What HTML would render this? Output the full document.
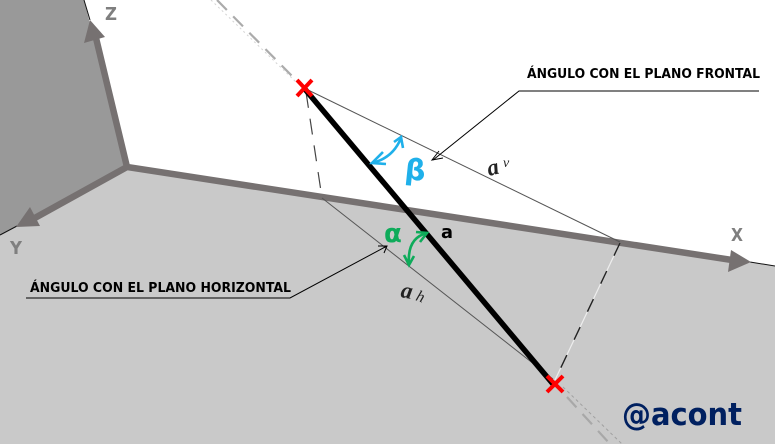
<!DOCTYPE html>
<html><head><meta charset="utf-8"><style>
html,body{margin:0;padding:0;background:#fff;width:775px;height:444px;overflow:hidden}
svg{display:block}
text{font-family:"DejaVu Sans","Liberation Sans",sans-serif}
</style></head><body>
<svg width="775" height="444" viewBox="0 0 775 444" xmlns="http://www.w3.org/2000/svg">
<rect width="775" height="444" fill="#fff"/>
<polygon points="0,0 84,0 127,167 0,235" fill="#999999"/>
<polygon points="127,167 775,266 775,444 0,444 0,235" fill="#c9c9c9"/>
<path d="M84,0 L90,20 M17,226 L0,235 M750,262 L775,266" stroke="#111" stroke-width="1" fill="none"/>
<!-- extension lines -->
<path d="M217,0 L292,76" stroke="#ababab" stroke-width="2.2" stroke-dasharray="14 9" fill="none"/>
<path d="M211,0 L296,82" stroke="#d4d4d4" stroke-width="1" stroke-dasharray="2 3" fill="none"/>
<path d="M567,397 L610,444" stroke="#a8a8a8" stroke-width="2.2" stroke-dasharray="14 9" fill="none"/>
<path d="M563,387 L622,444" stroke="#a0a0a0" stroke-width="1" stroke-dasharray="3 3" fill="none"/>
<!-- axes -->
<path d="M127,167 L96,38 M127,167 L33,219 M127,167 L732,260" stroke="#767171" stroke-width="6.5" fill="none"/>
<polygon points="90,20 105,37 84,43" fill="#767171"/>
<polygon points="16,227 30,207 40,226" fill="#767171"/>
<polygon points="751,262 731,250 728,272" fill="#767171"/>
<!-- construction lines -->
<path d="M304,88 L620,242" stroke="#555" stroke-width="1" fill="none"/>
<path d="M322,198 L553,379" stroke="#555" stroke-width="1" fill="none"/>
<path d="M306,92 L322,198" stroke="#444" stroke-width="1.2" stroke-dasharray="16 11" fill="none"/>
<path d="M620,243 L555,380" stroke="#eee" stroke-width="1.2" fill="none"/>
<path d="M620,243 L555,380" stroke="#222" stroke-width="1.4" stroke-dasharray="14 17" fill="none"/>
<!-- main segment -->
<path d="M304,88 L553,384" stroke="#000" stroke-width="5.5" fill="none"/>
<!-- red marks -->
<path d="M297,80 L312,96 M312,80 L297,96" stroke="#f00" stroke-width="4" fill="none"/>
<path d="M547,376 L563,392 M563,376 L547,392" stroke="#f00" stroke-width="4" fill="none"/>
<!-- leaders -->
<path d="M759,91 L519,91 L433,160" stroke="#000" stroke-width="1" fill="none"/>
<path d="M439,151 L432,160 L443,158" stroke="#000" stroke-width="1" fill="none"/>
<path d="M26,298 L290,298 L387,246" stroke="#000" stroke-width="1" fill="none"/>
<path d="M378,246 L387,246 L384,253" stroke="#000" stroke-width="1" fill="none"/>
<!-- angle arcs -->
<path d="M372,163 Q393,158 401,138" stroke="#1fb0ea" stroke-width="2.6" fill="none"/>
<path d="M383,152 L372,163 L386,164 M394,142 L401,137 L403,148" stroke="#1fb0ea" stroke-width="2.6" fill="none"/>
<path d="M427,233 Q407,238 409,264" stroke="#0eab5a" stroke-width="2.6" fill="none"/>
<path d="M416,232 L427,233 L420,242 M404,255 L409,265 L414,256" stroke="#0eab5a" stroke-width="2.6" fill="none"/>
<!-- labels -->
<text x="527" y="78" font-size="13" font-weight="bold" fill="#000" textLength="233" lengthAdjust="spacingAndGlyphs">ÁNGULO CON EL PLANO FRONTAL</text>
<text x="30" y="292" font-size="13" font-weight="bold" fill="#000" textLength="261" lengthAdjust="spacingAndGlyphs">ÁNGULO CON EL PLANO HORIZONTAL</text>
<text x="105" y="20" font-size="18" font-weight="bold" fill="#7f7f7f" textLength="12" lengthAdjust="spacingAndGlyphs">Z</text>
<text x="10" y="254" font-size="18" font-weight="bold" fill="#7f7f7f" textLength="12" lengthAdjust="spacingAndGlyphs">Y</text>
<text x="731" y="241" font-size="18" font-weight="bold" fill="#7f7f7f" textLength="12" lengthAdjust="spacingAndGlyphs">X</text>
<text x="405" y="180" font-size="29" font-weight="bold" fill="#1fb0ea" transform="rotate(6 415 170)">β</text>
<text x="384" y="242" font-size="26" font-weight="bold" fill="#0eab5a">α</text>
<text x="441" y="238" font-size="18" font-weight="bold" fill="#000" textLength="12" lengthAdjust="spacingAndGlyphs">a</text>
<text x="489" y="176" font-size="23" font-style="italic" font-weight="bold" fill="#222" style="font-family:'Liberation Serif',serif" transform="rotate(-14 489 176)">a</text>
<text x="503" y="167" font-size="14" font-style="italic" fill="#222" style="font-family:'Liberation Serif',serif">v</text>
<text x="400" y="297" font-size="23" font-style="italic" font-weight="bold" fill="#222" style="font-family:'Liberation Serif',serif" transform="rotate(10 400 297)">a</text>
<text x="415" y="300" font-size="16" font-style="italic" fill="#222" style="font-family:'Liberation Serif',serif" transform="rotate(20 415 300)">h</text>
<text x="622" y="425" font-size="31" font-weight="bold" fill="#002060" textLength="120" lengthAdjust="spacingAndGlyphs">@acont</text>
</svg>
</body></html>
